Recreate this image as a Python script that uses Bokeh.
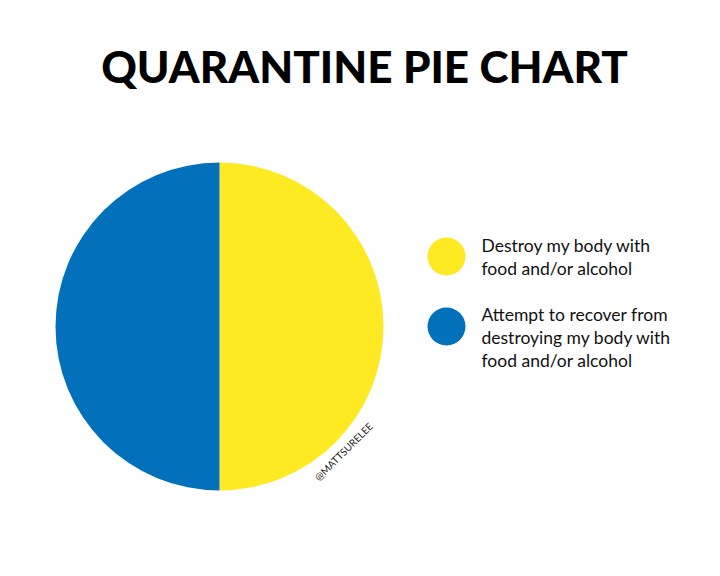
import math
from bokeh.plotting import figure
from bokeh.models import Range1d
from bokeh.core.properties import value
from bokeh.embed import file_html
from bokeh.resources import INLINE

title_text = "QUARANTINE PIE CHART"
categories = ["Destroy my body with\nfood and/or alcohol",
              "Attempt to recover from\ndestroying my body with\nfood and/or alcohol"]
shares = [50, 50]
colors = ["#FDEA22", "#0270BA"]
credit = "@MATTSURELEE"

W, H = 720, 576
p = figure(width=W, height=H, output_backend="svg", toolbar_location=None,
           x_range=Range1d(0, W), y_range=Range1d(0, H), min_border=0,
           background_fill_color="white", border_fill_color="white")
p.axis.visible = False
p.grid.visible = False
p.outline_line_color = None

def Y(y):
    return H - y

# pie: starts at top, goes clockwise
total = sum(shares)
cx, cy, r = 219, Y(326), 164
ang = math.pi / 2
starts, ends = [], []
for s in shares:
    a2 = ang - 2 * math.pi * s / total
    starts.append(a2)
    ends.append(ang)
    ang = a2
p.wedge(x=[cx] * len(shares), y=[cy] * len(shares), radius=r,
        start_angle=starts, end_angle=ends, fill_color=colors, line_color=None)

# title
p.text(x=[W / 2 + 4], y=[Y(65)], text=[title_text], text_align="center", text_baseline="middle",
       text_font=value("Lato Black"), text_font_style="bold", text_font_size="44px", text_color="black")

# legend
ly = [256, 326]
first_line = [245, 314]
for i, lab in enumerate(categories):
    p.scatter(x=[446], y=[Y(ly[i])], size=38, fill_color=colors[i], line_color=None)
    for j, line in enumerate(lab.split("\n")):
        p.text(x=[481], y=[Y(first_line[i] + 23 * j)], text=[line], text_align="left",
               text_baseline="middle", text_font=value("Lato"), text_font_size="17.5px",
               text_color="#111111")

# credit
p.text(x=[343], y=[Y(451)], text=[credit], angle=math.radians(45), text_align="center",
       text_baseline="middle", text_font=value("Lato"), text_font_size="10px",
       text_color="#222222")

open("out.html", "w").write(file_html(p, INLINE))
